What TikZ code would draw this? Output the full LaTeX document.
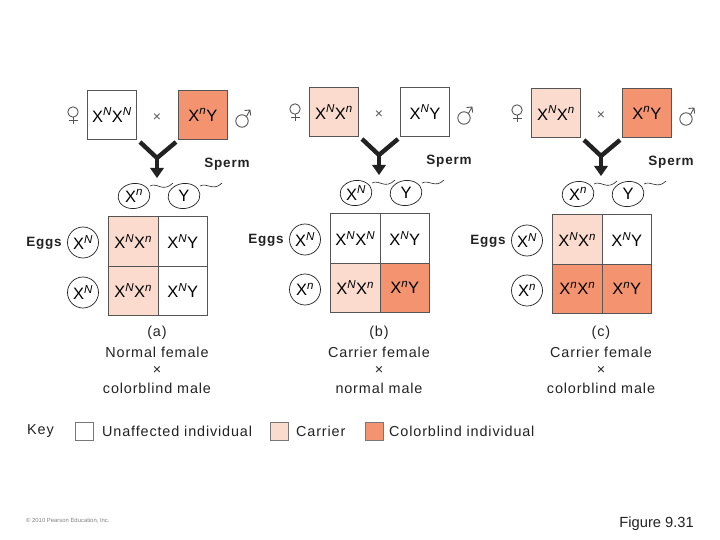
\documentclass[tikz,border=0pt]{standalone}
\usepackage{fontspec}
\setmainfont{Liberation Sans}
\newfontfamily\spacedfont[LetterSpace=6]{Liberation Sans}
\newcommand{\XN}{X\textsuperscript{\textit{N}}}
\newcommand{\Xn}{X\textsuperscript{\textit{n}}}
\definecolor{carrier}{HTML}{FADBCD}
\definecolor{blind}{HTML}{F4936F}
\definecolor{edge}{HTML}{555555}
\definecolor{ink}{HTML}{222222}
\tikzset{
 geno/.style={font=\fontsize{16.5}{18}\selectfont,text=black,inner sep=0pt},
 parentbox/.style={draw=edge,line width=0.9pt,minimum width=49pt,minimum height=49pt,geno,anchor=north west},
 cellbox/.style={draw=edge,line width=1pt,minimum width=49.5pt,minimum height=49.5pt,geno,anchor=north west},
 eggc/.style={draw=ink,line width=0.7pt,circle,minimum size=31pt,geno},
 spermtext/.style={geno,minimum width=30pt,minimum height=22pt},
 spermline/.style={draw=ink,line width=0.7pt},
 lab/.style={font=\spacedfont\fontsize{14.4}{17}\selectfont,text=ink,inner sep=0pt},
 boldlab/.style={font=\spacedfont\bfseries\fontsize{13.5}{17}\selectfont,text=ink,inner sep=0pt},
 sexline/.style={draw=edge,line width=0.9pt},
 keybox/.style={draw=edge!80,line width=1pt,minimum width=18pt,minimum height=18pt,inner sep=0pt},
 thickY/.style={draw=ink,line width=4.4pt},
 tail/.style={draw=ink,line width=0.6pt},
}
\begin{document}
\begin{tikzpicture}[x=1pt,y=-1pt]
\useasboundingbox (0,0) rectangle (720,540);
\foreach \p/\ox/\oy/\fa/\fb/\la/\lb/\s/\ea/\eb/\caa/\cab/\cba/\cbb/\faa/\fab/\fba/\fbb/\ta/\tb/\tc in {
 a/157/90/white/blind/\XN\XN/\Xn Y/\Xn/\XN/\XN/\XN\Xn/\XN Y/\XN\Xn/\XN Y/carrier/white/carrier/white/(a)/Normal female/colorblind male,
 b/379/87/carrier/white/\XN\Xn/\XN Y/\XN/\XN/\Xn/\XN\XN/\XN Y/\XN\Xn/\Xn Y/white/white/carrier/blind/(b)/Carrier female/normal male,
 c/601/88/carrier/blind/\XN\Xn/\Xn Y/\Xn/\XN/\Xn/\XN\Xn/\XN Y/\Xn\Xn/\Xn Y/carrier/white/blind/blind/(c)/Carrier female/colorblind male}{
 \begin{scope}[shift={(\ox,\oy)}]
  \node[parentbox,fill=\fa] (\p p1) at (-70,0) {\la};
  \node[parentbox,fill=\fb] (\p p2) at (21,0) {\lb};
  % female and male signs
  \draw[sexline] (-84,22) circle (5.2pt);
  \draw[sexline] (-84,27.2) -- (-84,34) (-88.5,30) -- (-79.5,30);
  \draw[sexline] (85,31) circle (6.2pt);
  \draw[sexline] (89.4,26.6) -- (93,20) (87.5,20.5) -- (93,20) -- (93.6,25.5);
  \node[inner sep=0pt,text=edge,font=\fontsize{14}{14}\selectfont] (\p x) at (0,28) {×};
  \coordinate (\p l) at (-17,52);
  \coordinate (\p r) at (19,52);
  \coordinate (\p j) at (0,68);
  \coordinate (\p s) at (0,79);
  \coordinate (\p tip) at (0,88);
  \draw[thickY] (\p l) -- (\p j) -- (\p r);
  \draw[thickY] (\p j) -- (\p s);
  \fill[ink] (-7,78) -- (7,78) -- (\p tip) -- cycle;
  \node[boldlab] (\p sp) at (70,74.5) {Sperm};
  \node[spermtext] (\p s1) at (-23,106) {\s};
  \node[spermtext] (\p s2) at (27,106) {Y};
  \draw[spermline,rotate around={8:(\p s1)}] (\p s1) ellipse (16pt and 12.5pt);
  \draw[spermline,rotate around={8:(\p s2)}] (\p s2) ellipse (16pt and 12.5pt);
  \coordinate (\p e1) at (16,93);
  \coordinate (\p e2) at (65,93);
  \coordinate (\p b1) at (-7,96);
  \coordinate (\p b2) at (43,96);
  \draw[tail] (\p b1) .. controls (0,92) and (6,103) .. (\p e1);
  \draw[tail] (\p b2) .. controls (50,92) and (56,102) .. (\p e2);
  \node[boldlab] (\p eg) at (-113,153) {Eggs};
  \node[eggc] (\p e) at (-74,152.5) {\ea};
  \node[eggc] (\p g) at (-74,202.5) {\eb};
  \node[cellbox,fill=\faa] (\p c11) at (-49,126) {\caa};
  \node[cellbox,fill=\fab] (\p c12) at (0.5,126) {\cab};
  \node[cellbox,fill=\fba] (\p c21) at (-49,175.5) {\cba};
  \node[cellbox,fill=\fbb] (\p c22) at (0.5,175.5) {\cbb};
 \end{scope}
 \node[lab] (\p t1) at (\ox,333) {\ta};
 \node[lab] (\p t2) at (\ox,352) {\tb};
 \node[lab] (\p t3) at (\ox,370) {×};
 \node[lab] (\p t4) at (\ox,388) {\tc};
}
\node[lab,anchor=west] (key) at (27,431) {Key};
\node[keybox,fill=white] (k1) at (84,431) {};
\node[lab,anchor=west] (k1t) at (102,431) {Unaffected individual};
\node[keybox,fill=carrier] (k2) at (279,431) {};
\node[lab,anchor=west] (k2t) at (296,431) {Carrier};
\node[keybox,fill=blind] (k3) at (374,431) {};
\node[lab,anchor=west] (k3t) at (389,431) {Colorblind individual};
\node[anchor=west,inner sep=0pt,text=gray,font=\fontsize{5.9}{7}\selectfont] (cr) at (26,521) {© 2010 Pearson Education, Inc.};
\node[anchor=east,inner sep=0pt,text=ink,font=\fontsize{14.7}{17}\selectfont] (fig) at (694,524) {Figure 9.31};
\end{tikzpicture}
\end{document}
